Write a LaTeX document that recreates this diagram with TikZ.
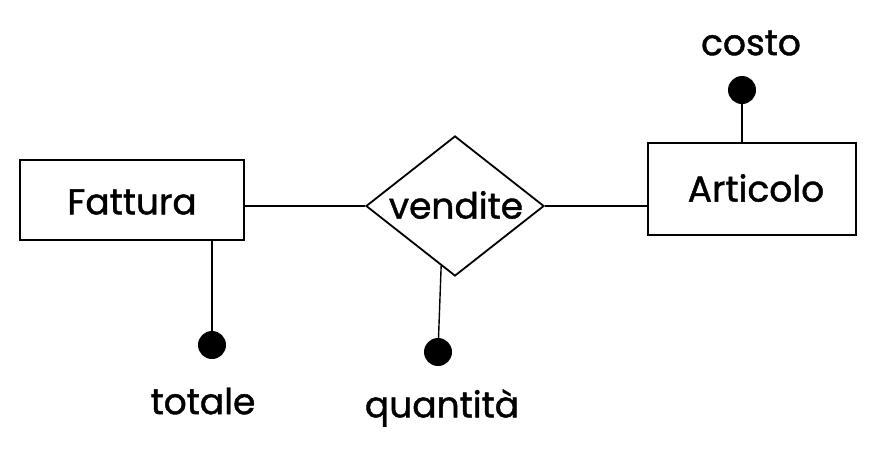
\documentclass[tikz,border=0pt]{standalone}
\usepackage{fontspec}
\setmainfont{Poppins}[FakeBold=1.2]
\usetikzlibrary{shapes.geometric}
\begin{document}
\begin{tikzpicture}[x=1pt,y=-1pt,
  entity/.style={draw=black,line width=1.8pt,rectangle,inner sep=0pt},
  rel/.style={draw=black,line width=1.8pt,diamond,inner sep=0pt,shape aspect=1.27},
  attr/.style={circle,fill=black,inner sep=0pt,minimum size=28pt},
  lbl/.style={font=\fontsize{36}{40}\selectfont,inner sep=0pt},
  conn/.style={draw=black,line width=1.4pt}]
\useasboundingbox (0,0) rectangle (876,459);
\node[entity,minimum width=224pt,minimum height=80pt] (fattura) at (132,200) {};
\node[lbl] at (132,202) {Fattura};
\node[rel,minimum width=178pt,minimum height=140pt] (vendite) at (455,206) {};
\node[lbl] at (456,205) {vendite};
\node[entity,minimum width=208pt,minimum height=92pt] (articolo) at (752,189) {};
\node[lbl] at (756,188) {Articolo};
\node[attr] (dtot) at (212,345) {};
\node[attr] (dqta) at (438,352) {};
\node[attr] (dcos) at (742,90) {};
\node[lbl] (ltot) at (203,401) {totale};
\node[lbl] (lqta) at (442,408) {quantità};
\node[lbl] (lcos) at (751,43) {costo};
\draw[conn] (vendite.west -| fattura.east) -- (vendite.west);
\draw[conn] (vendite.east) -- (vendite.east -| articolo.west);
\draw[conn] (fattura.south -| dtot) -- (dtot);
\draw[conn] (vendite.257) -- (dqta);
\draw[conn] (dcos) -- (articolo.north -| dcos);
\end{tikzpicture}
\end{document}
